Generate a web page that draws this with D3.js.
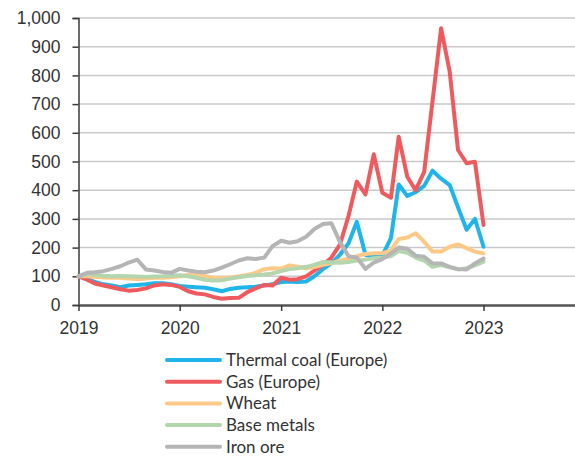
<!DOCTYPE html>
<html>
<head>
<meta charset="utf-8">
<script src="https://cdn.jsdelivr.net/npm/d3@7"></script>
<style>
  html, body { margin: 0; padding: 0; background: #fff; }
  svg { display: block; font-family: Lato, "Noto Sans", sans-serif; }
</style>
</head>
<body>
<svg id="chart" width="575" height="460"></svg>
<script>
// Commodity price indices, Jan 2019 = 100, monthly Jan 2019 – Jan 2023
const months = d3.range(49).map(i => new Date(2019, i, 1));

const thermalCoal = [100, 92, 80, 72, 68, 62, 68, 70, 72, 76, 76, 72,
  66, 64, 62, 60, 55, 48, 56, 60, 62, 64, 68, 72,
  80, 82, 80, 82, 100, 125, 145, 175, 215, 290, 175, 168,
  172, 233, 420, 380, 393, 415, 468, 440, 418, 340, 262, 300, 203];

const gasEurope = [100, 88, 75, 68, 62, 55, 50, 52, 58, 68, 72, 70,
  63, 48, 40, 37, 28, 22, 24, 25, 45, 58, 70, 68,
  95, 88, 90, 100, 120, 140, 165, 210, 310, 430, 385, 525,
  391, 374, 586, 447, 400, 464, 710, 964, 813, 540, 494, 499, 279];

const wheat = [100, 100, 98, 96, 95, 95, 92, 90, 92, 95, 95, 97,
  100, 105, 103, 100, 95, 93, 96, 100, 105, 112, 125, 128,
  127, 138, 133, 128, 132, 140, 145, 155, 160, 170, 178, 180,
  180, 190, 230, 235, 250, 220, 186, 186, 203, 211, 198, 186, 180];

const baseMetals = [100, 108, 105, 102, 100, 101, 100, 99, 98, 99, 100, 102,
  104, 100, 95, 88, 85, 86, 92, 97, 101, 104, 106, 110,
  118, 125, 128, 133, 140, 150, 148, 147, 150, 155, 158, 163,
  165, 170, 188, 182, 165, 155, 133, 139, 131, 124, 128, 138, 151];

const ironOre = [100, 112, 114, 118, 126, 135, 148, 158, 124, 120, 115, 112,
  126, 120, 116, 114, 120, 130, 142, 155, 163, 160, 165, 205,
  224, 217, 222, 238, 265, 282, 285, 220, 170, 165, 126, 148,
  160, 180, 200, 196, 172, 168, 145, 145, 133, 125, 124, 145, 162];

const seriesNames = ["Thermal coal (Europe)", "Gas (Europe)", "Wheat", "Base metals", "Iron ore"];
const seriesValues = [thermalCoal, gasEurope, wheat, baseMetals, ironOre];
const seriesColors = ["#1fb5ea", "#ef5a5e", "#fdc986", "#b4d6ae", "#b5b5b5"];

const yTicks = [0, 100, 200, 300, 400, 500, 600, 700, 800, 900, 1000];
const xTicks = [2019, 2020, 2021, 2022, 2023];

// chart geometry
const plotLeft = 78.5, plotRight = 575, plotTop = 18, plotBottom = 305;
const svg = d3.select("#chart");

const x = d3.scaleTime()
  .domain([new Date(2019, 0, 1), new Date(2023, 11, 15)])
  .range([plotLeft, 580]);
const y = d3.scaleLinear().domain([0, 1000]).range([plotBottom, plotTop]);

// horizontal gridlines
svg.append("g")
  .selectAll("line")
  .data(yTicks.filter(d => d > 0))
  .join("line")
  .attr("x1", plotLeft).attr("x2", plotRight)
  .attr("y1", d => y(d)).attr("y2", d => y(d))
  .attr("stroke", "#c9c9c9")
  .attr("stroke-width", 1.5);

// y axis
const yAxis = svg.append("g")
  .attr("transform", `translate(${plotLeft},0)`)
  .call(d3.axisLeft(y).tickValues(yTicks).tickFormat(d3.format(",")).tickSize(6).tickPadding(12));
yAxis.select(".domain").attr("stroke", "#3a3a3a").attr("stroke-width", 1.5);
yAxis.selectAll(".tick line").attr("stroke", "#3a3a3a").attr("stroke-width", 1.5);
yAxis.selectAll("text").attr("fill", "#333").style("font-size", "17.5px");

// x axis
const xAxis = svg.append("g")
  .attr("transform", `translate(0,${plotBottom})`)
  .call(d3.axisBottom(x)
    .tickValues(xTicks.map(yr => new Date(yr, 0, 1)))
    .tickFormat(d3.timeFormat("%Y"))
    .tickSize(6).tickPadding(11)
    .tickSizeOuter(0));
xAxis.select(".domain").attr("stroke", "#555").attr("stroke-width", 2.5);
xAxis.selectAll(".tick line").attr("stroke", "#3a3a3a").attr("stroke-width", 1.5);
xAxis.selectAll("text").attr("fill", "#333").style("font-size", "17.5px");

// series lines
const line = d3.line()
  .x((d, i) => x(months[i]))
  .y(d => y(d));

svg.append("g")
  .selectAll("path")
  .data(seriesValues)
  .join("path")
  .attr("d", d => line(d))
  .attr("fill", "none")
  .attr("stroke", (d, i) => seriesColors[i])
  .attr("stroke-width", 4)
  .attr("stroke-linejoin", "round")
  .attr("stroke-linecap", "round");

// legend
const legend = svg.append("g").attr("transform", "translate(167,360)");
const rows = legend.selectAll("g")
  .data(seriesNames)
  .join("g")
  .attr("transform", (d, i) => `translate(0,${i * 21.7})`);
rows.append("line")
  .attr("x1", 0).attr("x2", 53)
  .attr("stroke", (d, i) => seriesColors[i])
  .attr("stroke-width", 4)
  .attr("stroke-linecap", "round");
rows.append("text")
  .attr("x", 59).attr("y", 0)
  .attr("dy", "0.35em")
  .attr("fill", "#333")
  .style("font-size", "17px")
  .text(d => d);
</script>
</body>
</html>
